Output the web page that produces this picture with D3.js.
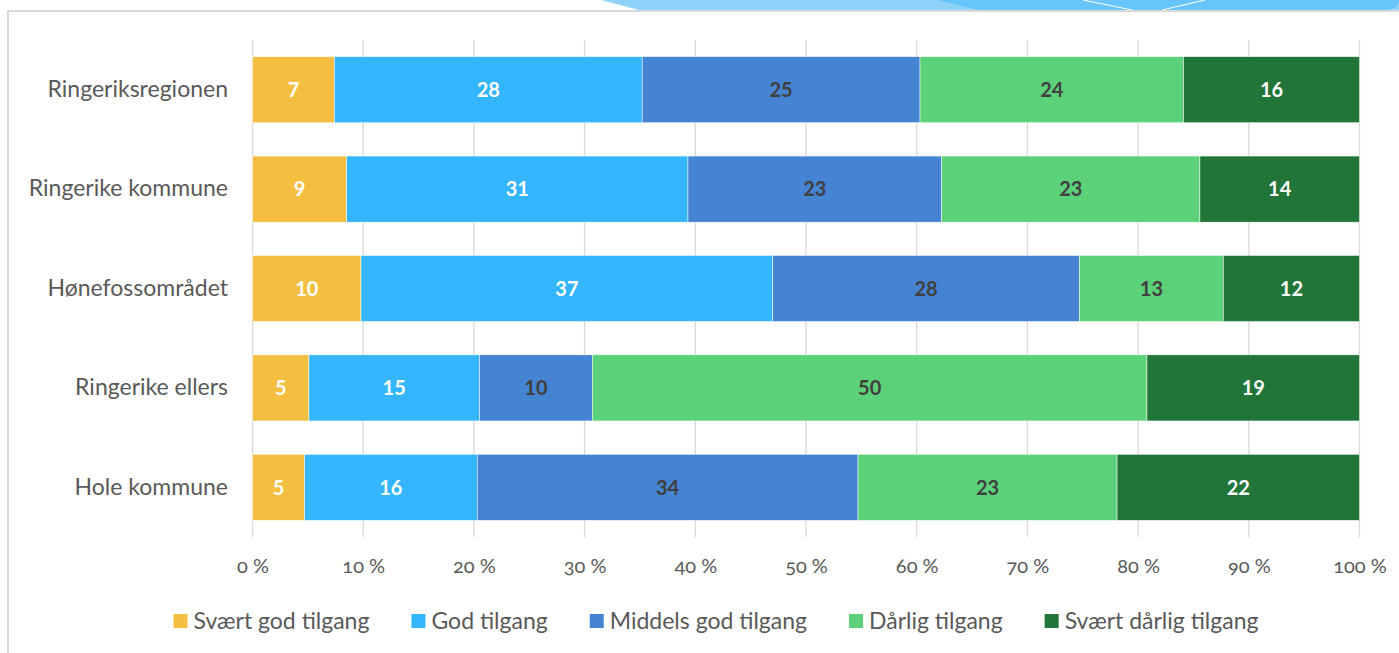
<!DOCTYPE html>
<html>
<head>
<meta charset="utf-8">
<script src="https://cdn.jsdelivr.net/npm/d3@7"></script>
<style>
  body { margin: 0; background: #fff; }
  svg { display: block; font-family: Lato, "Open Sans", sans-serif; }
</style>
</head>
<body>
<svg id="chart" width="1399" height="653"></svg>
<script>
// categories (top to bottom) and series
var categories = ["Ringeriksregionen", "Ringerike kommune", "Hønefossområdet", "Ringerike ellers", "Hole kommune"];
var seriesNames = ["Svært god tilgang", "God tilgang", "Middels god tilgang", "Dårlig tilgang", "Svært dårlig tilgang"];

// percent values per series, same order as categories
var svaertGod    = [7.4, 8.5, 9.8, 5.1, 4.7];
var god          = [27.8, 30.8, 37.2, 15.4, 15.6];
var middelsGod   = [25.1, 22.9, 27.7, 10.2, 34.4];
var darlig       = [23.8, 23.3, 13.0, 50.1, 23.4];
var svaertDarlig = [15.9, 14.4, 12.3, 19.2, 21.9];

var tickValues = [0, 0.1, 0.2, 0.3, 0.4, 0.5, 0.6, 0.7, 0.8, 0.9, 1];

var colors = ["#f4bf41", "#33b6fe", "#4584d3", "#5bd17a", "#217538"];
var labelColors = ["#ffffff", "#ffffff", "#404040", "#404040", "#ffffff"];

// build rows for the stack
var allSeries = [svaertGod, god, middelsGod, darlig, svaertDarlig];
var data = categories.map(function (c, i) {
    var row = { cat: c };
    seriesNames.forEach(function (s, j) { row[s] = allSeries[j][i]; });
    return row;
});

var svg = d3.select("#chart");

// decorative header strip + frame
svg.append("path")
    .attr("d", "M601,0 L1399,0 L1399,10 L639,10 Z")
    .attr("fill", "#8fd3fb");
svg.append("path")
    .attr("d", "M937,0 L1399,0 L1399,2 Q1396,10 1385,10 L978,10 Z")
    .attr("fill", "#66c5fa");
svg.append("path")
    .attr("d", "M1083,0 L1132,10 M1162,10 L1205,0")
    .attr("stroke", "#ffffff").attr("stroke-width", 1).attr("fill", "none");
svg.append("rect")
    .attr("x", 8).attr("y", 11)
    .attr("width", 1420).attr("height", 700)
    .attr("fill", "none")
    .attr("stroke", "#d9d9d9").attr("stroke-width", 2);

var x = d3.scaleLinear().domain([0, 1]).range([252.5, 1359.5]);
var y = d3.scaleBand().domain(categories).range([40, 537]).paddingInner(0.335).paddingOuter(0.1675);

// gridlines
svg.append("g")
    .selectAll("line")
    .data(tickValues)
    .enter().append("line")
    .attr("x1", d => x(d)).attr("x2", d => x(d))
    .attr("y1", 40).attr("y2", 537)
    .attr("stroke", "#d9d9d9").attr("stroke-width", 1.3);

var stack = d3.stack().keys(seriesNames).offset(d3.stackOffsetExpand);
var layers = stack(data);

var layer = svg.selectAll("g.layer")
    .data(layers)
    .enter().append("g")
    .attr("class", "layer")
    .attr("fill", (d, i) => colors[i]);

layer.selectAll("rect")
    .data(d => d)
    .enter().append("rect")
    .attr("x", d => x(d[0]))
    .attr("y", d => y(d.data.cat))
    .attr("width", d => x(d[1]) - x(d[0]))
    .attr("height", y.bandwidth())
    .attr("stroke", "#ffffff").attr("stroke-width", 0.5);

// value labels
layer.selectAll("text")
    .data(function (d, i) { return d.map(function (e) { return { e: e, key: d.key, i: i }; }); })
    .enter().append("text")
    .attr("x", d => (x(d.e[0]) + x(d.e[1])) / 2)
    .attr("y", d => y(d.e.data.cat) + y.bandwidth() / 2)
    .attr("dy", "0.36em")
    .attr("text-anchor", "middle")
    .attr("font-size", 20)
    .attr("font-weight", "bold")
    .attr("fill", d => labelColors[d.i])
    .text(d => Math.round(d.e.data[d.key]));

// category axis
var yAxis = svg.append("g")
    .attr("transform", "translate(252,0)")
    .call(d3.axisLeft(y).tickSize(0).tickPadding(24));
yAxis.select(".domain").remove();
yAxis.selectAll("text")
    .attr("font-size", 23)
    .attr("font-family", "Lato, 'Open Sans', sans-serif")
    .attr("fill", "#595959");

// percent axis
var xAxis = svg.append("g")
    .attr("transform", "translate(0,559)")
    .call(d3.axisBottom(x).tickValues(tickValues).tickSize(0).tickPadding(0)
        .tickFormat(d => Math.round(d * 100) + " %"));
xAxis.select(".domain").remove();
xAxis.selectAll("text")
    .attr("font-size", 20)
    .attr("font-family", "Lato, 'Open Sans', sans-serif")
    .attr("fill", "#595959")
    .style("font-variant-numeric", "oldstyle-nums");

// legend
var legend = svg.append("g").attr("transform", "translate(0,621)");
var items = legend.selectAll("g")
    .data(seriesNames)
    .enter().append("g");
items.append("rect")
    .attr("y", -7).attr("width", 14).attr("height", 14)
    .attr("fill", (d, i) => colors[i]);
items.append("text")
    .attr("x", 20)
    .attr("dy", "0.35em")
    .attr("font-size", 23)
    .attr("fill", "#595959")
    .text(d => d);

var gap = 42, pos = 0, widths = [];
items.each(function () { widths.push(this.getBBox().width); });
var total = d3.sum(widths) + gap * (widths.length - 1);
pos = 716 - total / 2;
items.attr("transform", function (d, i) {
    var t = "translate(" + pos + ",0)";
    pos += widths[i] + gap;
    return t;
});
</script>
</body>
</html>
